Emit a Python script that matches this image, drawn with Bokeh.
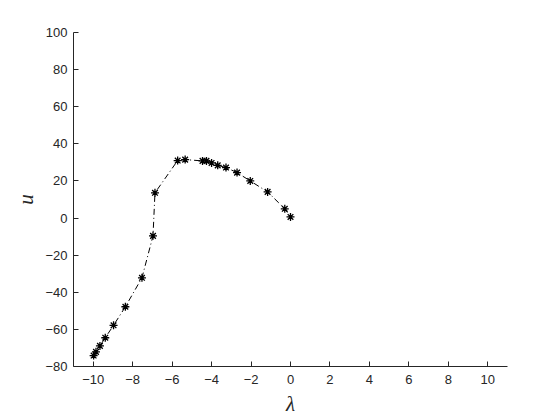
from bokeh.plotting import figure
from bokeh.models import Range1d, FixedTicker
from bokeh.embed import file_html
from bokeh.resources import INLINE

lam = [-9.98, -9.86, -9.66, -9.39, -8.97, -8.37, -7.53, -6.97, -6.87, -5.72, -5.34,
       -4.46, -4.26, -4.0, -3.69, -3.27, -2.71, -2.04, -1.16, -0.29, 0.0]
u = [-74.1, -72.1, -68.9, -64.5, -57.8, -47.8, -32.2, -9.6, 13.6, 31.0, 31.5,
     30.8, 30.8, 29.7, 28.4, 27.2, 24.5, 20.0, 14.1, 5.0, 0.6]
xticks = [-10, -8, -6, -4, -2, 0, 2, 4, 6, 8, 10]
yticks = [-80, -60, -40, -20, 0, 20, 40, 60, 80, 100]

p = figure(frame_width=434, frame_height=334, output_backend="svg", toolbar_location=None,
           x_range=Range1d(-11, 11), y_range=Range1d(-80, 100),
           min_border_left=73, min_border_right=40, min_border_top=32, min_border_bottom=50)
p.outline_line_color = None
p.xgrid.visible = False
p.ygrid.visible = False
p.background_fill_color = "white"
p.border_fill_color = "white"

p.line(lam, u, line_color="black", line_width=1, line_dash="6 3 1 3")
p.scatter(lam, u, marker="asterisk", size=8, line_color="black", line_width=1.3)

axc = "#262626"
for ax in (p.xaxis[0], p.yaxis[0]):
    ax.axis_line_color = axc
    ax.major_tick_line_color = axc
    ax.major_tick_in = 5
    ax.major_tick_out = 0
    ax.minor_tick_line_color = None
    ax.major_label_text_color = axc
    ax.major_label_text_font = "Liberation Sans"
    ax.major_label_text_font_size = "13px"
    ax.axis_label_text_font = "Liberation Serif"
    ax.axis_label_text_font_style = "italic"
    ax.axis_label_text_font_size = "21px"
    ax.axis_label_text_color = axc

p.xaxis.ticker = FixedTicker(ticks=xticks)
p.yaxis.ticker = FixedTicker(ticks=yticks)
p.xaxis.axis_label = "λ"
p.yaxis.axis_label = "u"
p.xaxis.major_label_standoff = 8
p.yaxis.major_label_standoff = 6
p.xaxis.axis_label_standoff = 5
p.yaxis.axis_label_standoff = 4

open("out.html", "w").write(file_html(p, INLINE))
